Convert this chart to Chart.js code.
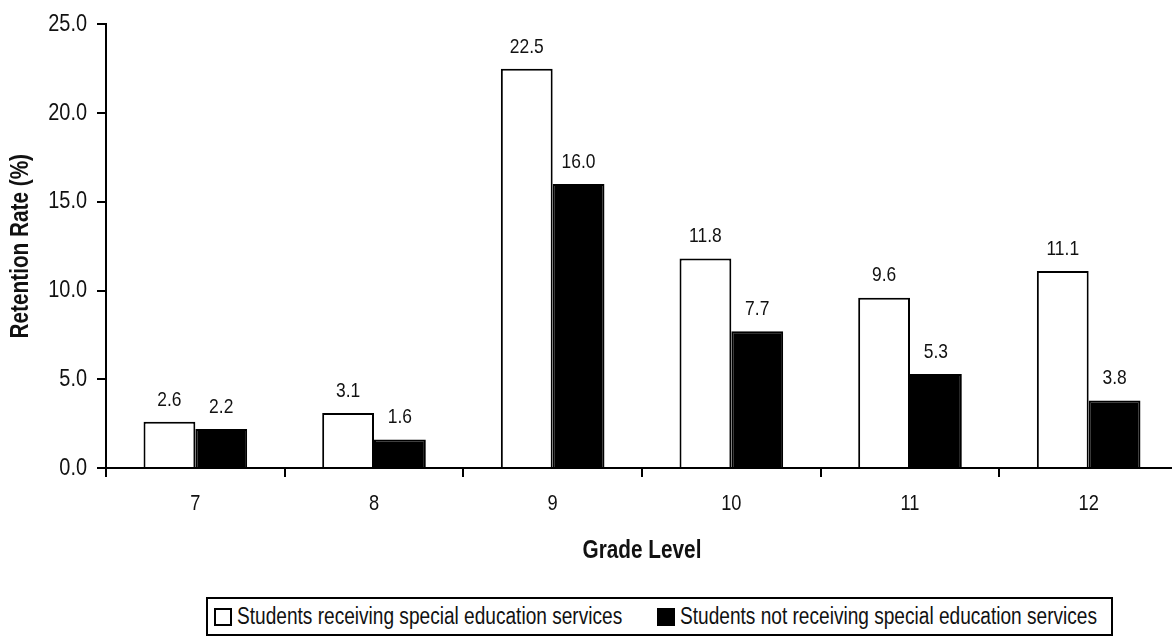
<!DOCTYPE html>
<html>
<head>
<meta charset="utf-8">
<script src="https://cdn.jsdelivr.net/npm/chart.js@4.4.1/dist/chart.umd.min.js"></script>
<style>
  html, body { margin: 0; padding: 0; background: #fff; overflow: hidden; }
  #wrap { position: relative; width: 1180px; height: 637px; }
  #chartBox { position: absolute; left: 0; top: 0; width: 1180px; height: 570px; }
  #legend {
    position: absolute; left: 206px; top: 597px; width: 907px; height: 39px;
    box-sizing: border-box; border: 2px solid #000;
    display: flex; align-items: center; justify-content: space-between;
    padding-left: 6px; padding-right: 14px;
    font-family: "Liberation Sans", Arial, sans-serif; font-size: 23px; color: #111;
    white-space: nowrap;
  }
  .item { display: flex; align-items: center; }
  .swatch { width: 18px; height: 18px; box-sizing: border-box; border: 2px solid #000; margin-right: 5px; }
  .txt { display: inline-block; overflow: visible; }
  .txt span { display: inline-block; transform-origin: 0 50%; }
</style>
</head>
<body>
<div id="wrap">
  <div id="chartBox"><canvas id="chart"></canvas></div>
  <div id="legend"></div>
</div>
<script>
// Grade levels on the x axis
const grades = ['7', '8', '9', '10', '11', '12'];

// Retention rates (%) per grade
const specialEd = [2.6, 3.1, 22.5, 11.8, 9.6, 11.1];
const notSpecialEd = [2.2, 1.6, 16.0, 7.7, 5.3, 3.8];

const seriesNames = [
    'Students receiving special education services',
    'Students not receiving special education services'
];

// y axis range
const yMin = 0;
const yMax = 25;
const yStep = 5;

const FONT = '"Liberation Sans", Arial, sans-serif';
const NARROW = 0.83; // squeeze text to look like Arial Narrow
const fills = ['#ffffff', '#000000'];

// squeeze every fillText horizontally (no narrow font installed)
const canvas = document.getElementById('chart');
const ctx2d = canvas.getContext('2d');
const origFillText = ctx2d.fillText;
ctx2d.fillText = function (text, x, y, maxWidth) {
    const w = this.measureText(text).width * NARROW;
    const mw = maxWidth !== undefined ? Math.min(maxWidth, w) : w;
    origFillText.call(this, text, x, y, mw);
};

// Value labels above each bar
const barLabels = {
    id: 'barLabels',
    afterDatasetsDraw(chart) {
        const ctx = chart.ctx;
        ctx.save();
        ctx.font = '21px ' + FONT;
        ctx.fillStyle = '#111';
        ctx.textAlign = 'center';
        ctx.textBaseline = 'middle';
        chart.data.datasets.forEach((ds, i) => {
            chart.getDatasetMeta(i).data.forEach((bar, j) => {
                ctx.fillText(ds.data[j].toFixed(1), bar.x, bar.y - 22);
            });
        });
        ctx.restore();
    }
};

const chart = new Chart(canvas, {
    type: 'bar',
    data: {
        labels: grades,
        datasets: [
            {
                label: seriesNames[0],
                data: specialEd,
                backgroundColor: fills[0],
                borderColor: '#000',
                borderWidth: 2
            },
            {
                label: seriesNames[1],
                data: notSpecialEd,
                backgroundColor: fills[1],
                borderColor: '#000',
                borderWidth: 2
            }
        ]
    },
    options: {
        responsive: true,
        maintainAspectRatio: false,
        animation: false,
        layout: { padding: { top: 21, left: 2, right: 2, bottom: 0 } },
        datasets: {
            bar: { categoryPercentage: 0.58, barPercentage: 1.0 }
        },
        scales: {
            x: {
                afterFit: s => { s.height = 102; },
                grid: {
                    offset: true,
                    drawOnChartArea: false,
                    tickLength: 9,
                    color: '#000',
                    lineWidth: 2
                },
                border: { display: true, color: '#000', width: 2 },
                ticks: {
                    color: '#111',
                    padding: 14,
                    font: { family: FONT, size: 22 }
                },
                title: {
                    display: true,
                    text: 'Grade Level',
                    color: '#111',
                    padding: { top: 20, bottom: 4 },
                    font: { family: FONT, size: 25, weight: 'bold' }
                }
            },
            y: {
                min: yMin,
                max: yMax,
                afterFit: s => { s.width = 104; },
                grid: {
                    drawOnChartArea: false,
                    tickLength: 9,
                    color: '#000',
                    lineWidth: 2
                },
                border: { display: true, color: '#000', width: 2 },
                ticks: {
                    stepSize: yStep,
                    color: '#111',
                    padding: 10,
                    font: { family: FONT, size: 24 },
                    callback: v => Number(v).toFixed(1)
                },
                title: {
                    display: true,
                    text: 'Retention Rate (%)',
                    color: '#111',
                    padding: { top: 4, bottom: 4 },
                    font: { family: FONT, size: 25, weight: 'bold' }
                }
            }
        },
        plugins: {
            legend: { display: false },
            tooltip: { enabled: false }
        }
    },
    plugins: [barLabels]
});

// Legend built from the series names
const legendEl = document.getElementById('legend');
seriesNames.forEach((name, i) => {
    const item = document.createElement('div');
    item.className = 'item';
    const sw = document.createElement('div');
    sw.className = 'swatch';
    sw.style.background = fills[i];
    const box = document.createElement('span');
    box.className = 'txt';
    const inner = document.createElement('span');
    inner.textContent = name;
    box.appendChild(inner);
    item.appendChild(sw);
    item.appendChild(box);
    legendEl.appendChild(item);
    const w = inner.getBoundingClientRect().width;
    box.style.width = (w * NARROW) + 'px';
    inner.style.transform = 'scaleX(' + NARROW + ')';
});
</script>
</body>
</html>
